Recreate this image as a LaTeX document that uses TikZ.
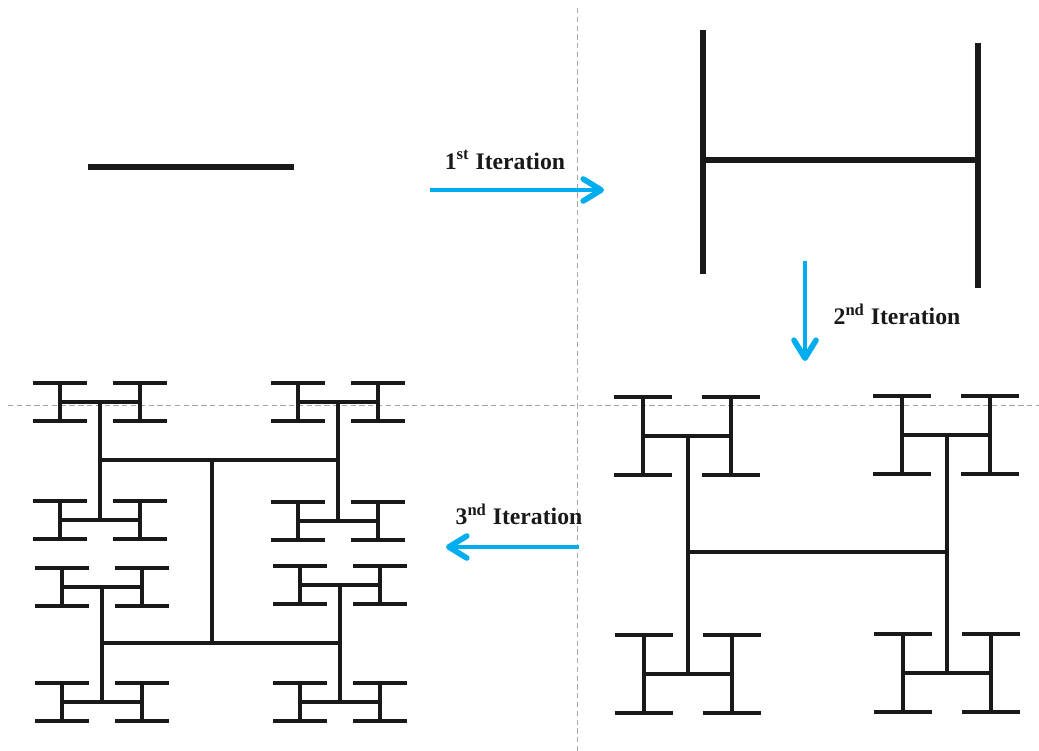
\documentclass[tikz,border=0pt]{standalone}
\usepackage{fontspec}
\setmainfont{Liberation Serif}
\usetikzlibrary{arrows.meta}
\definecolor{itercyan}{RGB}{0,174,239}

% one H with a bar across each of its four ends
\newcommand{\hcell}[5]{%
  \draw[tree] ({#1-#3},#2) -- ({#1+#3},#2);
  \draw[tree] ({#1-#3},{#2-#4}) -- ({#1-#3},{#2+#4});
  \draw[tree] ({#1+#3},{#2-#4}) -- ({#1+#3},{#2+#4});
  \foreach \sx in {-1,1}
    \foreach \sy in {-1,1}
      \draw[tree] ({#1+\sx*#3-#5},{#2+\sy*#4}) -- ({#1+\sx*#3+#5},{#2+\sy*#4});
}

\begin{document}
\begin{tikzpicture}[
  x=0.02cm, y=-0.02cm,
  tree/.style={line width=0.085cm, draw=black!90},
  seed/.style={line width=0.11cm, draw=black!90},
  guide/.style={draw=black!35, line width=0.5pt, dash pattern=on 3pt off 2pt},
  iter/.style={line width=0.085cm, draw=itercyan, -{Straight Barb[length=3.6mm, width=4.4mm, line width=3.2pt, round]}},
  lbl/.style={font=\fontsize{13.5}{16}\selectfont\bfseries, text=black!90, inner sep=1pt}
]
\useasboundingbox (0,0) rectangle (1039,751);

\draw[guide] (577,8) -- (577,751);
\draw[guide] (8,405) -- (1039,405);

\draw[seed] (88,167) -- (294,167);

\draw[seed] (703,30) -- (703,274);
\draw[seed] (978,43) -- (978,288);
\draw[seed] (703,160) -- (978,160);

\coordinate (a1s) at (430,190);
\coordinate (a1e) at (604,190);
\coordinate (a2s) at (805,261);
\coordinate (a2e) at (805,361);
\coordinate (a3s) at (579,547);
\coordinate (a3e) at (446,547);
\draw[iter] (a1s) -- (a1e);
\draw[iter] (a2s) -- (a2e);
\draw[iter] (a3s) -- (a3e);
\node[lbl] (lbl1) at (505,160) {1\textsuperscript{st} Iteration};
\node[lbl] (lbl2) at (897,314) {2\textsuperscript{nd} Iteration};
\node[lbl] (lbl3) at (519,514) {3\textsuperscript{nd} Iteration};

\draw[tree] (688,436) -- (688,674);
\draw[tree] (947,435) -- (947,673);
\draw[tree] (688,552) -- (947,552);
\foreach \cx/\cy in {687/436, 946/435, 688/674, 947/673}
  \hcell{\cx}{\cy}{44}{39}{29};

\draw[tree] (212,460) -- (212,643);
\draw[tree] (100,460) -- (338,460);
\draw[tree] (102,643) -- (340,643);
\draw[tree] (100,402) -- (100,520);
\draw[tree] (338,402) -- (338,521);
\draw[tree] (102,587) -- (102,702);
\draw[tree] (340,585) -- (340,702);
\foreach \cx/\cy in {100/402, 100/520, 338/402, 338/521, 102/587, 102/702, 340/585, 340/702}
  \hcell{\cx}{\cy}{40}{19}{27};
\end{tikzpicture}
\end{document}
